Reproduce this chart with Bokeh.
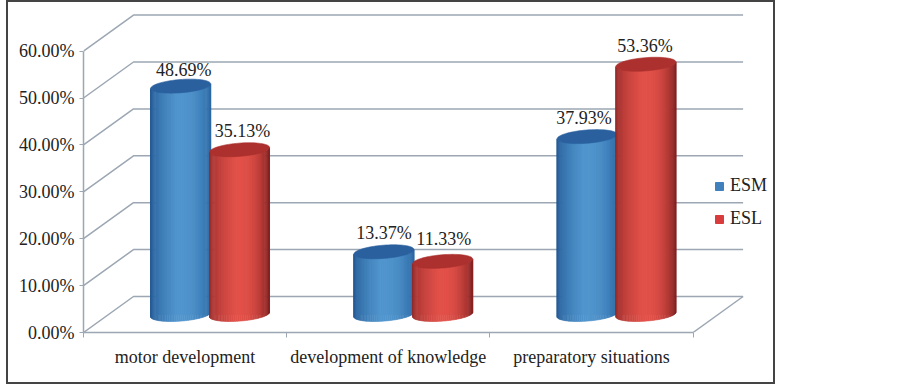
import numpy as np
from bokeh.embed import file_html
from bokeh.resources import INLINE
from bokeh.plotting import figure
from bokeh.models import FixedTicker, Legend, LegendItem, Range1d
from bokeh.core.properties import value

categories = ["motor development", "development of knowledge", "preparatory situations"]
esm = [48.69, 13.37, 37.93]
esl = [35.13, 11.33, 53.36]
y_ticks = [0, 10, 20, 30, 40, 50, 60]
y_labels = ["0.00%", "10.00%", "20.00%", "30.00%", "40.00%", "50.00%", "60.00%"]

FONT = "Liberation Serif"
FS = "18px"
GRID = "#9ca7b3"
TXT = "#222222"

PX_X = 203.2   # pixels per category
PX_Y = 4.69    # pixels per percent
DX = 50 / PX_X   # depth offset of the back wall
DY = 36 / PX_Y
UX, VX, VY = 28.4 / PX_X, 9.7 / PX_X, 7.0 / PX_Y
W, H, L, B = 765, 380, 75, 54
BORDER = 4  # the layout counts the CSS border in the canvas size

p = figure(width=W, height=H, output_backend="svg", toolbar_location=None,
           x_range=Range1d(0, (W + BORDER - L) / PX_X), y_range=Range1d(0, (H + BORDER - B) / PX_Y),
           min_border_left=L, min_border_right=0, min_border_top=0, min_border_bottom=B,
           x_axis_location="below", y_axis_location="left",
           background_fill_color=None, border_fill_color="white", outline_line_color=None,
           styles={"position": "absolute", "left": "6px", "top": "0px",
                   "border": "2px solid #444444", "box-sizing": "content-box"})
p.grid.visible = False

n = len(categories)
# walls
xs, ys = [], []
for t in y_ticks:
    xs.append([0, DX, n + DX])
    ys.append([t, t + DY, t + DY])
xs.append([n, n + DX])
ys.append([0, DY])
p.multi_line(xs, ys, line_color=GRID, line_width=1.5)

# axes
ya = p.yaxis[0]
ya.ticker = FixedTicker(ticks=y_ticks)
ya.major_label_overrides = dict(zip(y_ticks, y_labels))
ya.bounds = (0, 60)
ya.major_tick_out, ya.major_tick_in = 4, 0
ya.major_label_standoff = 5
xa = p.xaxis[0]
xa.ticker = FixedTicker(ticks=[i + 0.5 for i in range(n)], minor_ticks=list(range(n + 1)))
xa.major_label_overrides = {i + 0.5: c for i, c in enumerate(categories)}
xa.bounds = (0, n)
xa.minor_tick_out, xa.minor_tick_in = 5, 0
xa.major_label_standoff = 8
for a in (xa, ya):
    a.axis_line_color = GRID
    a.axis_line_width = 1.5
    a.major_tick_line_color = GRID if a is ya else None
    a.minor_tick_line_color = GRID if a is xa else None
    a.major_label_text_font = FONT
    a.major_label_text_font_size = FS
    a.major_label_text_color = TXT
    a.major_label_orientation = "horizontal"


def lerp(c1, c2, f):
    return "#%02x%02x%02x" % tuple(int(round(a + (b - a) * f)) for a, b in zip(c1, c2))


def shade(s, dark_l, light, dark_r):
    # s in [-1, 1]
    if s < -0.1:
        return lerp(dark_l, light, ((s + 1) / 0.9) ** 0.5)
    return lerp(light, dark_r, ((s + 0.1) / 1.1) ** 2.6)


def cylinders(vals, off, flat, dark_l, light, dark_r, top, nudge_x, nudge_y):
    cx = np.arange(n) + 0.5 + DX / 2 + off
    base = DY / 2
    r = p.vbar(x=cx, top=np.array(vals) + base, bottom=base, width=UX * 1.7,
               fill_color=flat, line_color=flat)
    t0 = np.arctan2(VX, UX)
    R = np.hypot(UX, VX)
    ts = np.linspace(t0 + np.pi, t0 + 2 * np.pi, 49)
    dx = UX * np.cos(ts) + VX * np.sin(ts)
    dy = VY * np.sin(ts)
    px, py, col = [], [], []
    for c, v in zip(cx, vals):
        for k in range(len(ts) - 1):
            px.append([c + dx[k], c + dx[k + 1], c + dx[k + 1], c + dx[k]])
            py.append([base + dy[k], base + dy[k + 1], base + v + dy[k + 1], base + v + dy[k]])
            col.append(shade((dx[k] + dx[k + 1]) / 2 / R, dark_l, light, dark_r))
    p.patches(px, py, fill_color=col, line_color=col, line_width=0.6)
    ta = np.linspace(0, 2 * np.pi, 73)
    ex = [list(c + UX * np.cos(ta) + VX * np.sin(ta)) for c in cx]
    ey = [list(base + v + VY * np.sin(ta)) for v in vals]
    p.patches(ex, ey, fill_color=top, line_color=top, line_width=0.6)
    p.text(cx + np.array(nudge_x) / PX_X, np.array(vals) + base + VY + np.array(nudge_y) / PX_Y,
           text=["%.2f%%" % v for v in vals], text_align="center", text_baseline="alphabetic",
           text_font=value(FONT), text_font_size=value(FS), text_color=TXT)
    return r


half = np.hypot(UX, VX) * 0.98
r1 = cylinders(esm, -half, "#3f80bd", (28, 80, 140), (82, 150, 206), (44, 104, 164), "#2a609e",
               [3, 0, -3], [9, 12, 12])
r2 = cylinders(esl, half, "#d93c3c", (140, 40, 40), (226, 82, 74), (132, 34, 34), "#ab302e",
               [3, 1, -1], [12, 15, 11])

legend = Legend(items=[LegendItem(label="ESM", renderers=[r1]), LegendItem(label="ESL", renderers=[r2])],
                location=(631, 103), orientation="vertical",
                background_fill_alpha=0, border_line_color=None, padding=0, margin=0,
                glyph_width=10, glyph_height=10, label_standoff=6, spacing=12,
                label_text_font=FONT, label_text_font_size=FS, label_text_color=TXT,
                label_height=20)
p.add_layout(legend)

open("out.html", "w").write(file_html(p, INLINE))
